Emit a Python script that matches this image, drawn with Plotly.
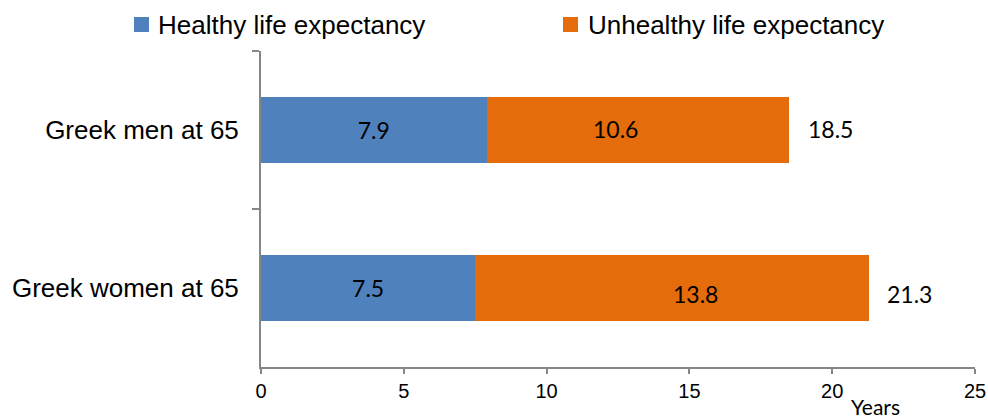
import plotly.graph_objects as go

# ---- data ----
categories = ["Greek men at 65", "Greek women at 65"]
healthy = [7.9, 7.5]
unhealthy = [10.6, 13.8]
totals = [18.5, 21.3]
series_names = ["Healthy life expectancy", "Unhealthy life expectancy"]
x_ticks = [0, 5, 10, 15, 20, 25]
x_title = "Years"

# ---- styles / layout ----
W, H = 988, 420
ML, MR, MT, MB = 261, 13, 51, 53
PW, PH = W - ML - MR, H - MT - MB
BLUE = "#4F81BD"
ORANGE = "#E46C0A"
AXIS = "#868686"
SANS = "Liberation Sans, Arial, sans-serif"
CAL = "Lato, Carlito, Calibri, sans-serif"
colors = [BLUE, ORANGE]
orange_label_shift = [-22, 23]
orange_label_yshift = [1, -6]
total_label_shift = [17, 16]
total_label_yshift = [1, -6]
legend_square_px = [(134, 149), (563, 578)]
legend_text_px = [156, 586]
legend_y_px = (17, 32)


def px_x(px):
    return (px - ML) / PW


def px_y(py):
    return (MT + PH - py) / PH


fig = go.Figure()
fig.add_trace(go.Bar(
    y=categories, x=healthy, orientation="h", name=series_names[0],
    marker=dict(color=BLUE, line=dict(width=0)),
    text=[f"{v:.1f}" for v in healthy], textposition="inside",
    insidetextanchor="middle", textangle=0,
    textfont=dict(family=CAL, size=23, color="black"),
    constraintext="none", hoverinfo="x+name", showlegend=False,
))
fig.add_trace(go.Bar(
    y=categories, x=unhealthy, orientation="h", name=series_names[1],
    marker=dict(color=ORANGE, line=dict(width=0)),
    hoverinfo="x+name", showlegend=False,
))

annotations = []
for i, c in enumerate(categories):
    annotations.append(dict(
        x=healthy[i] + unhealthy[i] / 2, y=c, xref="x", yref="y",
        text=f"{unhealthy[i]:.1f}", showarrow=False,
        xshift=orange_label_shift[i], yshift=orange_label_yshift[i],
        font=dict(family=CAL, size=23, color="black"),
    ))
    annotations.append(dict(
        x=totals[i], y=c, xref="x", yref="y", xanchor="left",
        text=f"{totals[i]:.1f}", showarrow=False,
        xshift=total_label_shift[i], yshift=total_label_yshift[i],
        font=dict(family=CAL, size=23, color="black"),
    ))
annotations.append(dict(
    x=px_x(875), y=px_y(406), xref="paper", yref="paper",
    xanchor="center", yanchor="middle",
    text=x_title, showarrow=False,
    font=dict(family=CAL, size=21, color="black"),
))

# manual legend
shapes = []
ymid = (legend_y_px[0] + legend_y_px[1]) / 2
for i, name in enumerate(series_names):
    x0, x1 = legend_square_px[i]
    shapes.append(dict(
        type="rect", xref="paper", yref="paper",
        x0=px_x(x0), x1=px_x(x1), y0=px_y(legend_y_px[1]), y1=px_y(legend_y_px[0]),
        fillcolor=colors[i], line=dict(width=0), layer="above",
    ))
    annotations.append(dict(
        x=px_x(legend_text_px[i]), y=px_y(ymid), xref="paper", yref="paper",
        xanchor="left", yanchor="middle", text=name, showarrow=False,
        font=dict(family=SANS, size=26, color="black"),
    ))

fig.update_layout(
    barmode="stack",
    bargap=0.58,
    width=W, height=H,
    margin=dict(l=ML, r=MR, t=MT, b=MB, autoexpand=False),
    paper_bgcolor="white", plot_bgcolor="white",
    showlegend=False,
    annotations=annotations,
    shapes=shapes,
    xaxis=dict(
        range=[0, 25], tickvals=x_ticks, ticktext=[str(t) for t in x_ticks],
        showgrid=False, zeroline=False,
        showline=True, linecolor=AXIS, linewidth=2,
        ticks="outside", ticklen=5, tickwidth=2, tickcolor=AXIS,
        tickfont=dict(family=SANS, size=20, color="black"),
        fixedrange=True,
    ),
    yaxis=dict(
        type="category", categoryorder="array", categoryarray=categories,
        range=[1.5, -0.5],
        showgrid=False, zeroline=False,
        showline=True, linecolor=AXIS, linewidth=2,
        ticks="outside", tickson="boundaries", ticklen=7, tickwidth=2, tickcolor=AXIS,
        ticklabelstandoff=15,
        tickfont=dict(family=SANS, size=26, color="black"),
        fixedrange=True,
    ),
)

fig.write_html(
    "out.html",
    config={"displayModeBar": False},
    post_script="document.body.style.margin='0';document.body.style.overflow='hidden';",
)
